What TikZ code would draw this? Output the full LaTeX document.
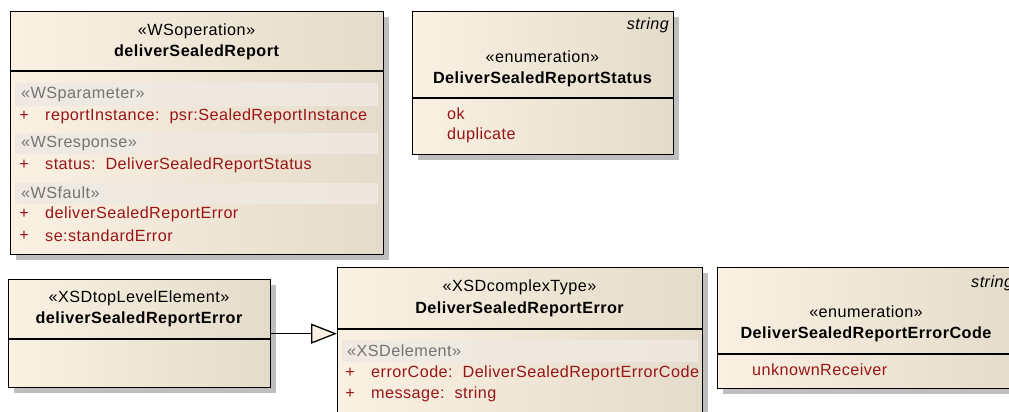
\documentclass[tikz,border=0pt]{standalone}
\usepackage{fontspec}
\setmainfont[LetterSpace=2.8]{Liberation Sans}
\usetikzlibrary{shadows,arrows.meta}

\definecolor{boxL}{HTML}{FBF1E3}
\definecolor{boxR}{HTML}{E5DBCA}
\definecolor{attr}{HTML}{9A1515}
\definecolor{stereo}{HTML}{747474}
\definecolor{band}{HTML}{EEE9E2}
\definecolor{shade}{HTML}{BEBEBE}

\tikzset{
  umlbox/.style={draw=black, line width=1.3pt, left color=boxL, right color=boxR,
    anchor=north west, inner sep=0pt,
    drop shadow={shadow xshift=5pt, shadow yshift=-5pt, fill=shade, opacity=1}},
  sep/.style={draw=black, line width=1.3pt},
  bandbox/.style={fill=band, fill opacity=0.9, draw=none},
  txt/.style={inner sep=0pt, font=\fontsize{16.2}{19}\selectfont},
  title/.style={txt, font=\fontsize{16.2}{19}\selectfont\bfseries},
  stype/.style={txt, anchor=west, text=stereo},
  item/.style={txt, anchor=west, text=attr},
  plus/.style={txt, text=attr},
  tag/.style={txt, font=\fontsize{16.2}{19}\selectfont\itshape},
  gen/.style={draw=black, line width=1.3pt, -{Triangle[length=26pt, width=20pt, fill=boxL]}}
}

\begin{document}
\begin{tikzpicture}[x=1pt, y=-1pt]
\useasboundingbox (0,0) rectangle (1009,412);
\clip (0,0) rectangle (1009,412);

% ---- WSoperation deliverSealedReport
\node[umlbox, minimum width=373pt, minimum height=243pt] (op) at (10,11) {};
\node[txt] (opS) at (196.5,31) {«WSoperation»};
\node[title] (opN) at (196.5,52) {deliverSealedReport};
\draw[sep] (op.west |- 0,71) -- (op.east |- 0,71);
\fill[bandbox] (15,83) rectangle (378,106);
\fill[bandbox] (15,133) rectangle (378,154);
\fill[bandbox] (15,183) rectangle (378,204);
\node[stype] (opP) at (21,95) {«WSparameter»};
\node[plus] (opP1) at (24,116) {+};
\node[item] (opA1) at (45,116) {reportInstance:\ \ psr:SealedReportInstance};
\node[stype] (opR) at (21,144) {«WSresponse»};
\node[plus] (opP2) at (24,165) {+};
\node[item] (opA2) at (45,165) {status:\ \ DeliverSealedReportStatus};
\node[stype] (opF) at (21,193) {«WSfault»};
\node[plus] (opP3) at (24,214) {+};
\node[item] (opA3) at (45,214) {deliverSealedReportError};
\node[plus] (opP4) at (24,236) {+};
\node[item] (opA4) at (45,236) {se:standardError};

% ---- enumeration DeliverSealedReportStatus
\node[umlbox, minimum width=261pt, minimum height=143pt] (st) at (412,11) {};
\node[tag, anchor=east] (stT) at (669,25) {string};
\node[txt] (stS) at (542.5,57) {«enumeration»};
\node[title] (stN) at (542.5,79) {DeliverSealedReportStatus};
\draw[sep] (st.west |- 0,98) -- (st.east |- 0,98);
\node[item] (stA1) at (447,114) {ok};
\node[item] (stA2) at (447,135) {duplicate};

% ---- XSDtopLevelElement deliverSealedReportError
\node[umlbox, minimum width=262pt, minimum height=108pt] (tle) at (8,279) {};
\node[txt] (tleS) at (139,298) {«XSDtopLevelElement»};
\node[title] (tleN) at (139,319) {deliverSealedReportError};
\draw[sep] (tle.west |- 0,339) -- (tle.east |- 0,339);

% ---- XSDcomplexType DeliverSealedReportError
\node[umlbox, minimum width=365pt, minimum height=160pt] (ct) at (337,267) {};
\node[txt] (ctS) at (519.5,287) {«XSDcomplexType»};
\node[title] (ctN) at (519.5,309) {DeliverSealedReportError};
\draw[sep] (ct.west |- 0,329) -- (ct.east |- 0,329);
\fill[bandbox] (342,340) rectangle (698,362);
\node[stype] (ctE) at (347,351) {«XSDelement»};
\node[plus] (ctP1) at (350,373) {+};
\node[item] (ctA1) at (371,373) {errorCode:\ \ DeliverSealedReportErrorCode};
\node[plus] (ctP2) at (350,394) {+};
\node[item] (ctA2) at (371,394) {message:\ \ string};

% ---- enumeration DeliverSealedReportErrorCode
\node[umlbox, minimum width=298pt, minimum height=121pt] (ec) at (717,267) {};
\node[tag, anchor=west] (ecT) at (971,283) {string};
\node[txt] (ecS) at (866,312) {«enumeration»};
\node[title] (ecN) at (866,334) {DeliverSealedReportErrorCode};
\draw[sep] (ec.west |- 0,354) -- (ec.east |- 0,354);
\node[item] (ecA1) at (752,370) {unknownReceiver};

% ---- generalization
\draw[gen] (tle.east) -- (ct.west |- tle.east);
\end{tikzpicture}
\end{document}
